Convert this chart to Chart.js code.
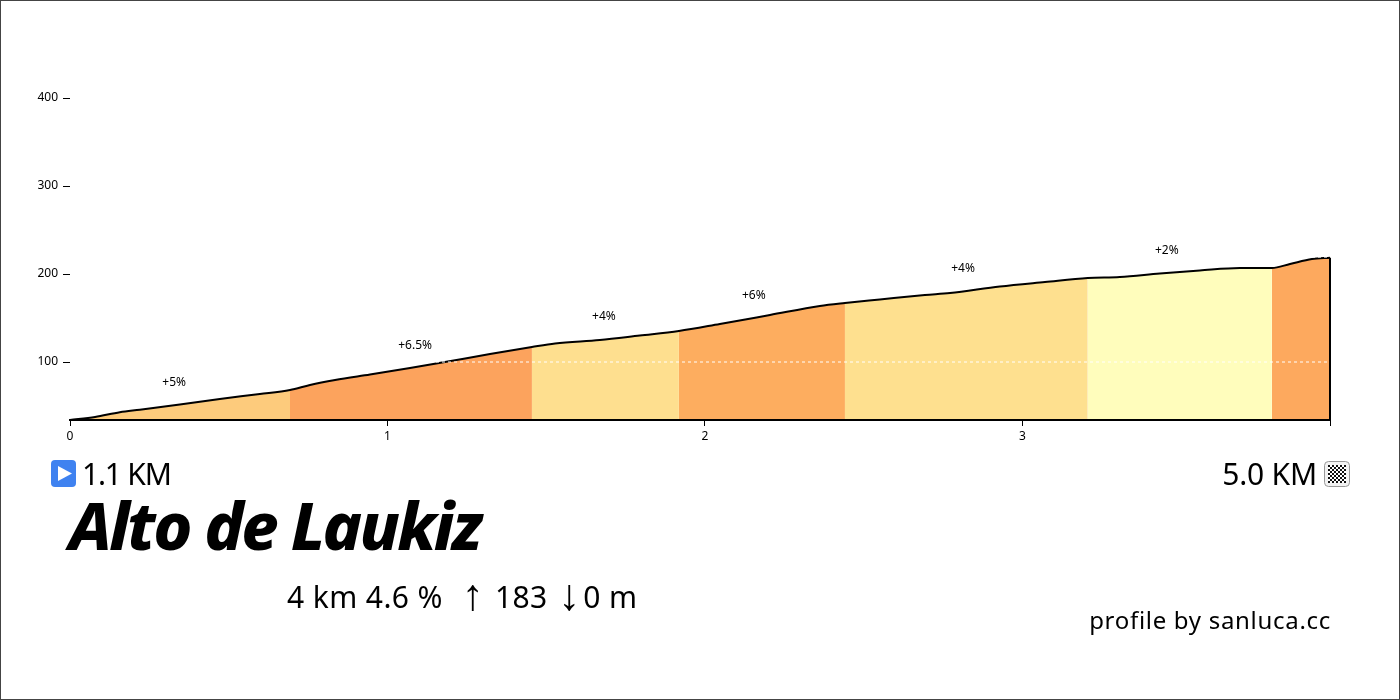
<!DOCTYPE html>
<html>
<head>
<meta charset="utf-8">
<title>Alto de Laukiz</title>
<script src="https://cdn.jsdelivr.net/npm/chart.js@4"></script>
<style>
  html, body { margin: 0; padding: 0; background: #fff; overflow: hidden; }
  #page { position: relative; width: 1400px; height: 700px; box-sizing: border-box; border: 1px solid #444; }
  #chart { position: absolute; left: -1px; top: -1px; }
  .txt { position: absolute; white-space: pre; color: #000; font-family: "Noto Sans", sans-serif; line-height: 1; }
  #start { left: 81px; top: 458px; font-size: 30px; letter-spacing: -1.2px; }
  #finish { right: 82px; top: 458px; font-size: 30px; letter-spacing: -0.2px; }
  #title { left: 68px; top: 490px; font-size: 66px; font-weight: 800; font-style: italic; letter-spacing: -2.6px; }
  #stats { left: 286px; top: 581px; font-size: 30px; letter-spacing: 0.4px; }
  #stats span { font-size: 44px; line-height: 0; vertical-align: -2px; margin: 0 2.5px; }
  #credit { right: 68px; top: 607px; font-size: 24px; letter-spacing: 0.7px; }
  svg { position: absolute; }
</style>
</head>
<body>
<div id="page">
  <canvas id="chart" width="1400" height="700"></canvas>
  <svg style="left:50px;top:459px" width="25" height="27" viewBox="0 0 25 27">
    <rect x="0" y="0" width="25" height="27" rx="4" fill="#3f82f0"/>
    <path d="M7 6 L21 13.5 L7 21 Z" fill="#fff"/>
  </svg>
  <svg style="left:1323px;top:460px" width="26" height="26" viewBox="0 0 26 26">
    <defs>
      <pattern id="chk" width="4" height="4" patternUnits="userSpaceOnUse">
        <rect width="4" height="4" fill="#fff"/>
        <rect width="2" height="2" fill="#111"/>
        <rect x="2" y="2" width="2" height="2" fill="#111"/>
      </pattern>
    </defs>
    <rect x="0.5" y="0.5" width="25" height="25" rx="4" fill="#f2f2f2" stroke="#999"/>
    <rect x="4" y="4" width="18" height="18" fill="url(#chk)"/>
  </svg>
  <div class="txt" id="start">1.1 KM</div>
  <div class="txt" id="finish">5.0 KM</div>
  <div class="txt" id="title">Alto de Laukiz</div>
  <div class="txt" id="stats">4 km 4.6 %  <span>↑</span> 183 <span>↓</span>0 m</div>
  <div class="txt" id="credit">profile by sanluca.cc</div>
</div>
<script>
// profil de la montee
const distKm = [0, 0.079, 0.157, 0.22, 0.346, 0.472, 0.598, 0.693, 0.756, 0.835, 0.945, 1.071, 1.181,
  1.323, 1.455, 1.528, 1.669, 1.795, 1.918, 2.047, 2.205, 2.362, 2.441, 2.551, 2.693, 2.772, 2.929,
  3.071, 3.206, 3.307, 3.433, 3.559, 3.685, 3.786, 3.843, 3.912, 3.969];
const elevM = [34.1, 37.5, 43, 45.8, 51.7, 58, 63.6, 68.2, 73.9, 79.5, 85.8, 93.2, 100,
  109.1, 117, 121, 125, 130.1, 135.2, 143.2, 153.4, 163.6, 167, 171, 176.1, 178.4, 185.8,
  190.9, 195.5, 196.6, 200.6, 204, 206.8, 206.8, 211.4, 217, 218.6];

// index du dernier point de chaque segment de pente
const segmentEnds = [7, 14, 18, 22, 28, 33, 36];
const segmentColors = ['#fdcb7c', '#fca35d', '#fedf8f', '#fdad5f', '#fee08f', '#fffdbc', '#fda95e'];

const gradeLabels = ['+5%', '+6.5%', '+4%', '+6%', '+4%', '+2%'];
const gradeKm = [0.328, 1.087, 1.682, 2.154, 2.813, 3.455];
const gradeElev = [77.3, 119.3, 152.3, 176.1, 206.8, 227.3];

const xTicks = [0, 1, 2, 3, 3.969];
const yTicks = [100, 200, 300, 400];
const dashLevels = [100, 219.2];

const xEnd = distKm[distKm.length - 1];
const yBase = elevM[0];
const yTop = elevM[elevM.length - 1];

function points(from, to) {
  const out = [];
  for (let i = from; i <= to; i++) out.push({ x: distKm[i], y: elevM[i] });
  return out;
}

const datasets = [];

// aplats de couleur
segmentEnds.forEach((end, i) => {
  datasets.push({
    data: points(i === 0 ? 0 : segmentEnds[i - 1], end),
    backgroundColor: segmentColors[i],
    borderWidth: 0,
    fill: 'start',
    pointRadius: 0,
    cubicInterpolationMode: 'monotone',
    order: 3
  });
});

// contour noir
datasets.push({
  data: points(0, distKm.length - 1),
  borderColor: '#000',
  borderWidth: 2,
  fill: false,
  pointRadius: 0,
  cubicInterpolationMode: 'monotone',
  clip: false,
  order: 2
});

// bord droit
datasets.push({
  data: [{ x: xEnd, y: yBase }, { x: xEnd, y: yTop }],
  borderColor: '#000',
  borderWidth: 2,
  fill: false,
  pointRadius: 0,
  clip: false,
  order: 2
});

// lignes blanches pointillees
dashLevels.forEach(level => {
  datasets.push({
    data: [{ x: 0, y: level }, { x: xEnd, y: level }],
    borderColor: '#fff',
    borderWidth: 1,
    borderDash: [3, 3],
    fill: false,
    pointRadius: 0,
    order: 1
  });
});

const gradeText = {
  id: 'gradeText',
  afterDatasetsDraw(chart) {
    const { ctx, scales } = chart;
    ctx.save();
    ctx.font = '12px "Noto Sans", sans-serif';
    ctx.fillStyle = '#000';
    ctx.textAlign = 'center';
    ctx.textBaseline = 'middle';
    gradeLabels.forEach((label, i) => {
      ctx.fillText(label, scales.x.getPixelForValue(gradeKm[i]), scales.y.getPixelForValue(gradeElev[i]) + 1);
    });
    ctx.restore();
  }
};

new Chart(document.getElementById('chart').getContext('2d'), {
  type: 'line',
  data: { datasets: datasets },
  plugins: [gradeText],
  options: {
    responsive: false,
    animation: false,
    layout: { padding: { top: 98, right: 70, bottom: 250, left: 0 } },
    plugins: { legend: { display: false }, tooltip: { enabled: false } },
    scales: {
      x: {
        type: 'linear',
        min: 0,
        max: xEnd,
        afterBuildTicks: axis => { axis.ticks = xTicks.map(v => ({ value: v })); },
        afterFit: axis => { axis.height = 30; },
        border: { display: true, color: '#000', width: 2, z: 1 },
        grid: { drawOnChartArea: false, drawTicks: true, tickLength: 6, tickColor: '#000' },
        ticks: {
          autoSkip: false,
          maxRotation: 0,
          padding: 3,
          color: '#000',
          font: { family: '"Noto Sans", sans-serif', size: 12 },
          callback: v => (Number.isInteger(v) ? String(v) : '')
        }
      },
      y: {
        type: 'linear',
        min: yBase,
        max: 400,
        afterBuildTicks: axis => { axis.ticks = yTicks.map(v => ({ value: v })); },
        afterFit: axis => { axis.width = 70; },
        border: { display: false },
        grid: { drawOnChartArea: false, drawTicks: true, tickLength: 7, tickColor: '#000' },
        ticks: {
          padding: 5,
          color: '#000',
          font: { family: '"Noto Sans", sans-serif', size: 12 }
        }
      }
    }
  }
});
</script>
</body>
</html>
